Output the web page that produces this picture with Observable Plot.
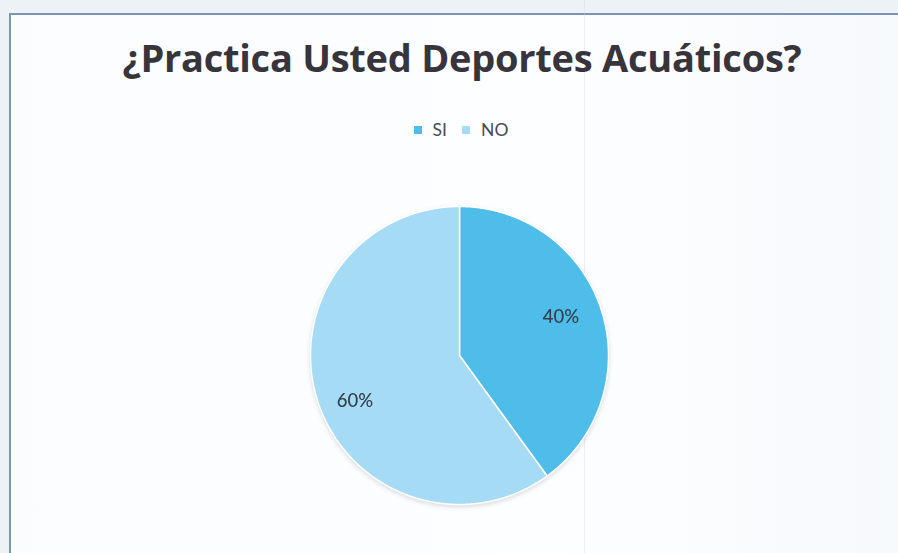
<!DOCTYPE html>
<html>
<head>
<meta charset="utf-8">
<script src="https://cdn.jsdelivr.net/npm/d3@7"></script>
<script src="https://cdn.jsdelivr.net/npm/@observablehq/plot@0.6"></script>
<style>
  html, body { margin: 0; padding: 0; }
  body { width: 898px; height: 553px; overflow: hidden; background: #edf2f7; font-family: Lato, "Open Sans", sans-serif; }
  #page { position: relative; width: 898px; height: 553px; overflow: hidden; }
  #box { position: absolute; left: 9px; top: 13px; width: 900px; height: 560px; background: linear-gradient(90deg, #fbfcfe 0%, #fdfeff 60%, #f6f9fc 100%); border-left: 2px solid #7896b4; border-top: 2px solid #7896b4; box-sizing: border-box; }
  #fold { position: absolute; left: 584px; top: 0; width: 1px; height: 553px; background: rgba(205,214,224,0.4); }
  #title { position: absolute; left: 0; top: 31px; width: 924px; text-align: center; font-family: "Open Sans", sans-serif; font-weight: 700; font-size: 38px; line-height: 52px; color: #38343c; letter-spacing: -0.25px; white-space: nowrap; }
  #legend { position: absolute; left: 0; top: 113px; width: 922px; display: flex; justify-content: center; }
  #legend > * { font-family: Lato, sans-serif !important; font-size: 17.5px !important; color: #4a4a52 !important; }
  #legend svg { margin-right: 11px !important; }
  #legend span { margin-right: 15px !important; }
  #legend span:last-child { margin-right: 0 !important; }
  #chart { position: absolute; left: 0; top: 0; }
  #chart svg { filter: drop-shadow(0 2px 2px rgba(60,70,90,0.18)); }
</style>
</head>
<body>
<div id="page">
  <div id="box"></div>
  <div id="fold"></div>
  <div id="title">¿Practica Usted Deportes Acuáticos?</div>
  <div id="legend"></div>
  <div id="chart"></div>
</div>
<script>
// Survey answers and their share of respondents (%)
const categories = ["SI", "NO"];
const percentages = [40, 60];
const colors = ["#4fbde9", "#a6dbf6"];

// Slice angles, starting at 12 o'clock and running clockwise
const pie = d3.pie().sort(null).value(d => d.value);
const arcs = pie(categories.map((c, i) => ({category: c, value: percentages[i]})));

// Outline of every slice in unit-circle coordinates (centre, arc, back to centre)
const outline = [];
for (const a of arcs) {
  const c = a.data.category;
  outline.push({category: c, x: 0, y: 0});
  const steps = Math.max(2, Math.ceil((a.endAngle - a.startAngle) / (Math.PI / 360)));
  for (let k = 0; k <= steps; k++) {
    const t = a.startAngle + (a.endAngle - a.startAngle) * k / steps;
    outline.push({category: c, x: Math.sin(t), y: Math.cos(t)});
  }
  outline.push({category: c, x: 0, y: 0});
}

// Percentage labels near the middle angle of each slice
const labelRadius = 0.73;
const labels = arcs.map(a => {
  const m = (a.startAngle + a.endAngle) / 2;
  return {text: `${a.data.value}%`, x: labelRadius * Math.sin(m), y: labelRadius * Math.cos(m)};
});
const labelNudge = [[-2, -5], [-1, 12]];

const cx = 459, cy = 355, r = 149;
const chart = Plot.plot({
  width: 898,
  height: 553,
  margin: 0,
  style: {background: "transparent", overflow: "visible"},
  x: {domain: [-1, 1], range: [cx - r, cx + r], axis: null},
  y: {domain: [-1, 1], range: [cy + r, cy - r], axis: null},
  color: {domain: categories, range: colors},
  marks: [
    Plot.line(outline, {x: "x", y: "y", z: "category", fill: "category", stroke: "white", strokeWidth: 1.5, strokeLinejoin: "round", curve: "linear"}),
    ...labels.map((l, i) => Plot.text([l], {
      x: "x", y: "y", text: "text", dx: labelNudge[i][0], dy: labelNudge[i][1],
      fontSize: 18.5, fontWeight: 500, fill: "#34404e", fontFamily: "Lato, sans-serif"
    }))
  ]
});
document.getElementById("chart").appendChild(chart);

const legend = Plot.legend({
  color: {domain: categories, range: colors},
  swatchSize: 8,
  style: {fontFamily: "Lato, sans-serif", fontSize: "17.5px", color: "#4a4a52"}
});
document.getElementById("legend").appendChild(legend);
</script>
</body>
</html>
